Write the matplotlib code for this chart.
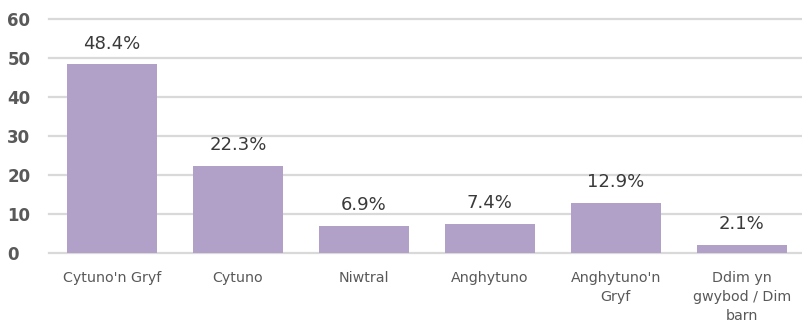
import matplotlib
matplotlib.use("Agg")
import matplotlib.pyplot as plt

categories = ["Cytuno'n Gryf", "Cytuno", "Niwtral", "Anghytuno", "Anghytuno'n\nGryf", "Ddim yn\ngwybod / Dim\nbarn"]
values = [48.4, 22.3, 6.9, 7.4, 12.9, 2.1]
yticks = [0, 10, 20, 30, 40, 50, 60]

plt.rcParams['font.family'] = ['DejaVu Sans']

fig = plt.figure(figsize=(8.03, 3.24), dpi=100)
ax = fig.add_axes([0.061, 0.219, 0.941, 0.722])

x = range(len(categories))
ax.bar(x, values, width=0.714, color="#b1a0c7", zorder=3)
for xi, v in zip(x, values):
    ax.text(xi, v + 3.0, f"{v}%", ha="center", va="bottom", fontsize=13,
            color="#3a3a3a", fontweight="medium")

ax.set_xlim(-0.5, len(categories) - 0.5)
ax.set_ylim(0, 60)
ax.set_yticks(yticks)
ax.set_yticklabels([str(t) for t in yticks], fontsize=12, fontweight="bold", color="#595959")
ax.set_xticks(list(x))
ax.set_xticklabels(categories, fontsize=10.3, color="#595959", linespacing=1.45)
ax.tick_params(axis="both", length=0)
ax.tick_params(axis="x", pad=13)
ax.tick_params(axis="y", pad=30)
for lab in ax.get_yticklabels():
    lab.set_horizontalalignment("left")

ax.grid(axis="y", color="#d9d9d9", linewidth=1.6, zorder=0)
for gl in ax.get_ygridlines():
    gl.set_clip_on(False)
for s in ax.spines.values():
    s.set_visible(False)

fig.savefig("out.png", dpi=100)
